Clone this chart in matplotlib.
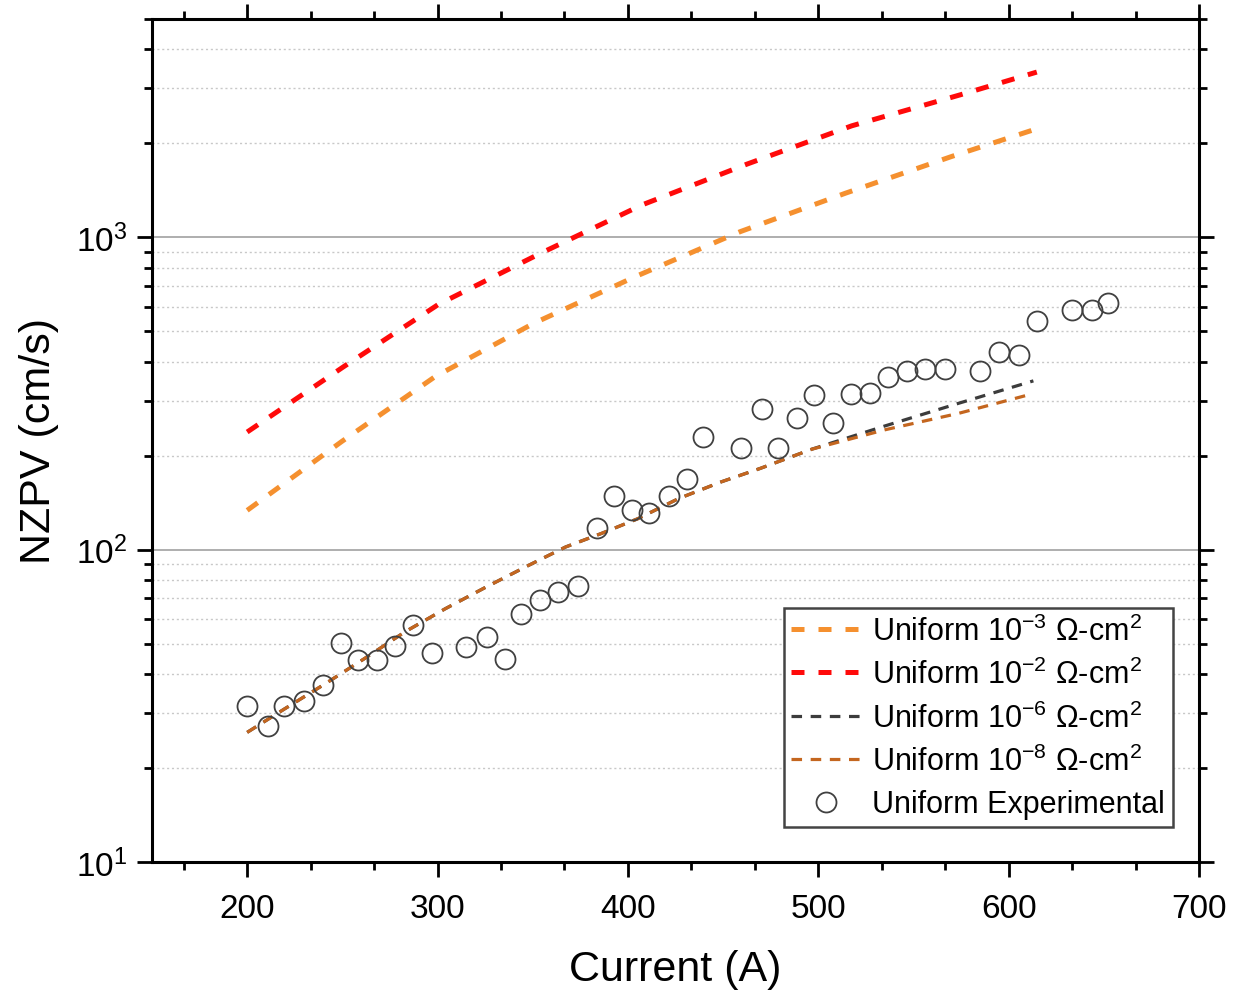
import math
import matplotlib
matplotlib.use("Agg")
import matplotlib.pyplot as plt
from matplotlib.ticker import LogLocator, FixedLocator, NullFormatter, FuncFormatter

plt.rcParams['font.family'] = ['Liberation Sans', 'DejaVu Sans']
plt.rcParams['mathtext.fontset'] = 'custom'
plt.rcParams['mathtext.rm'] = 'Liberation Sans'
plt.rcParams['mathtext.it'] = 'Liberation Sans'

# ---- data ----
x_1e2 = [200, 250.6, 300.5, 353, 407.3, 462.4, 517.6, 574.5, 614.8]
nzpv_1e2 = [238, 385, 610, 882, 1269, 1714, 2275, 2858, 3381]

x_1e3 = [200, 249.7, 298.7, 350.4, 403.8, 458.9, 514.1, 570.1, 613]
nzpv_1e3 = [133.6, 222, 358, 530, 748, 1042, 1383, 1815, 2208]

x_low = [200, 219.6, 241, 261.4, 282.8, 304.1, 325.5, 347.9, 367.3, 385.8,
         405.2, 426.6, 449, 469.3, 496.6, 535.1, 573.6, 613]
nzpv_1e6 = [26.0, 30.9, 37.2, 44.7, 54.5, 64.7, 75.9, 89.1, 102, 112.5,
            125.6, 145.7, 164.8, 181.8, 209.7, 249, 294, 347]
nzpv_1e8 = [26.0, 30.9, 37.2, 44.7, 54.5, 64.7, 75.9, 89.1, 102, 112.5,
            125.6, 145.7, 164.8, 181.8, 209.7, 242, 273, 316]

exp_x = [200, 211, 219.4, 230, 240, 249.4, 258.3, 268.3, 277.7, 287.2, 297.2,
         315, 326, 335.5, 343.9, 353.9, 363.3, 373.8, 383.8, 392.8, 402.2,
         411.1, 421.6, 431, 439.5, 459.5, 470.5, 478.9, 488.9, 497.8, 507.8,
         517.2, 527.2, 536.7, 546.6, 556, 566.6, 585, 595, 605.5, 615,
         633.3, 643.8, 652.2]
exp_y = [31.6, 27.3, 31.6, 32.8, 36.9, 50.4, 44.4, 44.4, 49.2, 57.5, 46.8,
         48.9, 52.6, 44.8, 62.4, 69.2, 73.3, 76.7, 117, 149, 134,
         131, 148, 168, 230, 211, 283, 211, 263, 312, 255,
         316, 318, 356, 372, 380, 378, 372, 428, 419, 538,
         587, 583, 614]

labels = ['Uniform 10$^{-3}$ Ω-cm$^{2}$', 'Uniform 10$^{-2}$ Ω-cm$^{2}$',
          'Uniform 10$^{-6}$ Ω-cm$^{2}$', 'Uniform 10$^{-8}$ Ω-cm$^{2}$',
          'Uniform Experimental']

fig = plt.figure(figsize=(12.5, 9.95), dpi=100)
ax = fig.add_axes([0.1216, 0.1327, 0.8376, 0.8472])

thick = dict(lw=3.6, ls=(0, (2.6, 2.8)), zorder=3)
thin = dict(lw=2.3, ls=(0, (3.3, 2.7)), zorder=3)
ax.plot(x_1e3, nzpv_1e3, color='#F5902F', label=labels[0], **thick)
ax.plot(x_1e2, nzpv_1e2, color='#FF0A0A', label=labels[1], **thick)
ax.plot(x_low, nzpv_1e6, color='#3C3C3C', label=labels[2], **thin)
ax.plot(x_low, nzpv_1e8, color='#C4661F', label=labels[3], **thin)
ax.plot(exp_x, exp_y, ls='none', marker='o', ms=14.4, mfc='none', mec='#404040',
        mew=1.3, label=labels[4], zorder=4)

ax.set_xlim(150, 700)
ax.set_ylim(10, 5000)
ax.set_yscale('log')

ax.xaxis.set_major_locator(FixedLocator([200, 300, 400, 500, 600, 700]))
ax.xaxis.set_minor_locator(FixedLocator([166.67, 233.33, 266.67, 333.33, 366.67, 433.33,
                                         466.67, 533.33, 566.67, 633.33, 666.67]))
ax.yaxis.set_major_locator(LogLocator(base=10, numticks=10))
ax.yaxis.set_minor_locator(LogLocator(base=10, subs=range(2, 10), numticks=10))
ax.yaxis.set_minor_formatter(NullFormatter())
ax.yaxis.set_major_formatter(FuncFormatter(lambda v, p: '$10^{%d}$' % round(math.log10(v))))

ax.grid(True, which='major', axis='y', color='#A8A8A8', lw=1.3, ls='-')
ax.grid(True, which='minor', axis='y', color='#C8C8C8', lw=1.0, ls=(0, (1.5, 2)))
ax.set_axisbelow(True)

for s in ax.spines.values():
    s.set_linewidth(2.2)
ax.tick_params(which='major', direction='out', length=11, width=2.0, labelsize=24,
               top=True, right=True, pad=7)
ax.tick_params(axis='x', which='major', pad=11)
ax.tick_params(which='minor', direction='out', length=6, width=2.0, top=True, right=True)

ax.set_xlabel('Current (A)', fontsize=31, labelpad=18)
ax.set_ylabel('NZPV (cm/s)', fontsize=31, labelpad=12)

leg = ax.legend(loc='lower right', bbox_to_anchor=(0.975, 0.0415), fontsize=22,
                frameon=True, fancybox=False, edgecolor='#444444', framealpha=1,
                handlelength=2.3, handletextpad=0.36, labelspacing=0.4,
                borderpad=0.25, borderaxespad=0)
leg.get_frame().set_linewidth(1.8)

fig.savefig('out.png', dpi=100)
